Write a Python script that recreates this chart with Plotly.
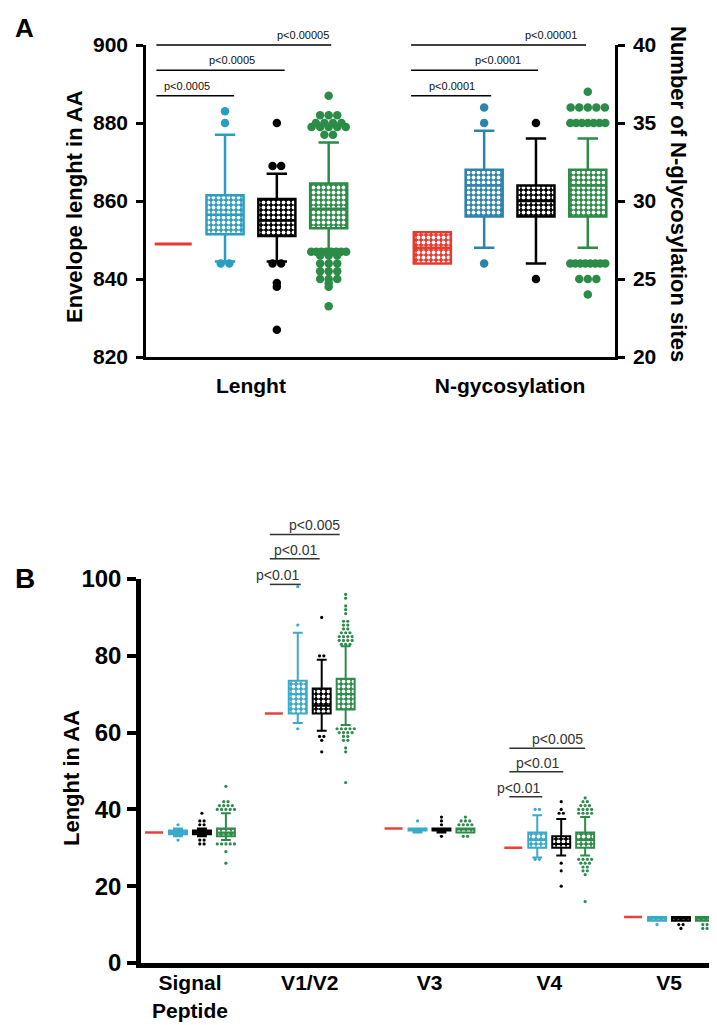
import plotly.graph_objects as go
from collections import Counter

# ---------------- Panel A data ----------------
A_categories = ["Lenght", "N-gycosylation"]
A_group_offsets = [-0.3, -0.1, 0.1, 0.3]
A_colors_len = ["#E8392D", "#2A9DC0", "#000000", "#2B8C47"]
A_colors_gly = ["#E8392D", "#2C84AC", "#000000", "#2B8C47"]

len_q1 = [849, 851.5, 851, 853]
len_med = [849, 856.5, 855, 858]
len_q3 = [849, 861.5, 860.5, 864.5]
len_lo = [849, 844.5, 844.5, 847.5]
len_hi = [849, 877, 867, 875]
len_out = [
    [],
    [883, 880, 844, 844],
    [880, 869, 869, 844, 844, 839, 838, 827],
    [887, 882, 882, 882, 880, 880, 880, 880, 879, 879, 879, 879, 879, 877, 877,
     847, 847, 847, 847, 847, 847, 847, 847, 846, 846, 846, 844, 844, 844,
     842, 842, 842, 840, 840, 840, 839, 838, 833],
]

gly_q1 = [26, 29, 29, 29]
gly_med = [27, 31, 30, 31]
gly_q3 = [28, 32, 31, 32]
gly_lo = [26, 27, 26, 27]
gly_hi = [28, 34.5, 34, 34]
gly_out = [
    [],
    [36, 35, 26],
    [35, 25],
    [37, 36, 36, 36, 36, 36, 35, 35, 35, 35, 35, 35, 35,
     26, 26, 26, 26, 26, 26, 26, 26, 25, 25, 25, 24],
]

A_ticks_left = [820, 840, 860, 880, 900]
A_ticks_right = [20, 25, 30, 35, 40]

# significance bars (relative to category centre), heights in left-axis units
A_sig_start = [-0.365, -0.382]
A_sig_end = [[-0.065, 0.13, 0.31], [-0.073, 0.108, 0.293]]
A_sig_y = [887, 893.5, 900]
A_sig_text = [["p<0.0005", "p<0.0005", "p<0.00005"], ["p<0.0001", "p<0.0001", "p<0.00001"]]
A_sig_text_x = [[-0.247, -0.073, 0.2], [-0.224, -0.046, 0.158]]

# ---------------- Panel B data ----------------
B_categories = ["Signal<br>Peptide", "V1/V2", "V3", "V4", "V5"]
B_colors = ["#E8413A", "#3AAAC9", "#000000", "#2E8B4A"]
B_ticks = [0, 20, 40, 60, 80, 100]

B_q1 = [[34, 33.5, 33.5, 33], [65, 65, 65, 66], [35, 34.5, 34.5, 34], [30, 30, 30, 30], [12, 11, 11, 11]]
B_med = [[34, 34, 34, 34], [65, 70, 67, 70], [35, 35, 35, 35], [30, 32, 31, 32], [12, 12, 12, 12]]
B_q3 = [[34, 34.5, 34.5, 35], [65, 73.5, 71.5, 74], [35, 35, 35, 35], [30, 34, 33, 34], [12, 12, 12, 12]]
B_lo = [[34, 33, 33, 32], [65, 62.5, 60.5, 62], [35, 34, 34, 34], [30, 27.5, 28, 28], [12, 11, 11, 11]]
B_hi = [[34, 35, 35, 39], [65, 86, 79, 82.5], [35, 35, 35, 35], [30, 38.5, 37.5, 38], [12, 12, 12, 12]]
B_out = [
    [[], [36, 32], [39, 37, 37, 36, 36, 32, 32, 31, 31],
     [46, 42, 42, 41, 41, 41, 41, 40, 40, 40, 40, 40, 31, 31, 31, 31, 31, 29, 26]],
    [[], [98, 88, 61], [90, 80, 80, 59, 59, 58, 55],
     [96, 95, 93, 92, 91, 89, 89, 88, 88, 87, 87, 86, 86, 86, 85, 85, 85, 85,
      84, 84, 84, 84, 83, 83, 83, 61, 61, 61, 61, 61, 60, 60, 60, 60, 59, 59, 58, 58, 56, 55, 47]],
    [[], [37], [38, 37, 36, 33], [38, 37, 37, 37, 36, 36, 36, 36, 33, 33]],
    [[], [40, 40, 27, 27], [42, 40, 39, 39, 26, 24, 20],
     [43, 42, 42, 41, 41, 41, 40, 40, 40, 40, 39, 39, 39, 39,
      27, 27, 27, 27, 26, 26, 26, 25, 25, 24, 24, 23, 16]],
    [[], [10], [10, 10, 9], [10, 10, 9, 9]],
]

B_sig_cats = [1, 3]
B_sig_start = [-0.333, -0.333]
B_sig_end = [[-0.075, 0.083, 0.25], [-0.058, 0.117, 0.3]]
B_sig_y = [[98.6, 105.3, 111.6], [43.3, 49.8, 55.9]]
B_sig_text = [["p<0.01", "p<0.01", "p<0.005"], ["p<0.01", "p<0.01", "p<0.005"]]
B_sig_text_x = [[-0.267, -0.117, 0.042], [-0.258, -0.1, 0.067]]

# ---------------- helpers ----------------
FONT = "Arial, 'Liberation Sans', Helvetica, sans-serif"


def swarm(center, values, step, maxw):
    xs, ys = [], []
    counts = Counter(values)
    for v, n in counts.items():
        s = step if n == 1 else min(step, maxw / (n - 1))
        for k in range(n):
            xs.append(center + (k - (n - 1) / 2) * s)
            ys.append(v)
    return xs, ys


fig = go.Figure()


def add_group(pos, q1, med, q3, lo, hi, out, color, xa, ya, bw, lw, msize, step, maxw):
    if q3 > q1:
        fig.add_trace(go.Bar(
            x=[pos], base=[q1], y=[q3 - q1], width=bw, xaxis=xa, yaxis=ya,
            marker=dict(color=color, line=dict(width=0),
                        pattern=dict(shape=".", fgcolor="white", bgcolor=color,
                                     size=5, solidity=0.45)),
            hoverinfo="skip"))
    fig.add_trace(go.Box(
        x=[pos], q1=[q1], median=[med], q3=[q3], lowerfence=[lo], upperfence=[hi],
        width=bw, whiskerwidth=0.55, orientation="v", boxpoints=False,
        line=dict(color=color, width=lw), fillcolor="rgba(0,0,0,0)",
        xaxis=xa, yaxis=ya))
    if out:
        xs, ys = swarm(pos, out, step, maxw)
        fig.add_trace(go.Scatter(
            x=xs, y=ys, mode="markers", xaxis=xa, yaxis=ya, cliponaxis=False,
            marker=dict(color=color, size=msize, line=dict(width=0))))


# Panel A
for g in range(4):
    add_group(0 + A_group_offsets[g], len_q1[g], len_med[g], len_q3[g], len_lo[g], len_hi[g],
              len_out[g], A_colors_len[g], "x", "y", 0.143, 3 if g == 0 else 2.5, 8.5, 0.033, 0.135)
for g in range(4):
    add_group(1 + A_group_offsets[g], gly_q1[g], gly_med[g], gly_q3[g], gly_lo[g], gly_hi[g],
              gly_out[g], A_colors_gly[g], "x", "y2", 0.143, 2.5, 8.5, 0.033, 0.135)

# Panel B
for c in range(5):
    for g in range(4):
        add_group(c + A_group_offsets[g], B_q1[c][g], B_med[c][g], B_q3[c][g], B_lo[c][g], B_hi[c][g],
                  B_out[c][g], B_colors[g], "x2", "y4", 0.15, 2.5 if g == 0 else 2, 3.2, 0.036, 0.17)

annotations = []

# significance bars A
sx, sy = [], []
for c in range(2):
    for k in range(3):
        sx += [c + A_sig_start[c], c + A_sig_end[c][k], None]
        sy += [A_sig_y[k], A_sig_y[k], None]
        annotations.append(dict(x=c + A_sig_text_x[c][k], y=A_sig_y[k], xref="x", yref="y3",
                                text=A_sig_text[c][k], showarrow=False, xanchor="center",
                                yanchor="middle", yshift=10,
                                font=dict(family=FONT, size=11, color="#111")))
fig.add_trace(go.Scatter(x=sx, y=sy, mode="lines", xaxis="x", yaxis="y3",
                         line=dict(color="black", width=1.5), hoverinfo="skip"))

# significance bars B
sx, sy = [], []
for i, c in enumerate(B_sig_cats):
    for k in range(3):
        sx += [c + B_sig_start[i], c + B_sig_end[i][k], None]
        sy += [B_sig_y[i][k], B_sig_y[i][k], None]
        annotations.append(dict(x=c + B_sig_text_x[i][k], y=B_sig_y[i][k], xref="x2", yref="y5",
                                text=B_sig_text[i][k], showarrow=False, xanchor="center",
                                yanchor="middle", yshift=9,
                                font=dict(family=FONT, size=14, color="#333")))
fig.add_trace(go.Scatter(x=sx, y=sy, mode="lines", xaxis="x2", yaxis="y5",
                         line=dict(color="#333", width=1.5), hoverinfo="skip"))


def label(text, px, py, size, angle=0):
    return dict(text=text, x=px / 717, y=1 - py / 1025, xref="paper", yref="paper",
                showarrow=False, textangle=angle, xanchor="center", yanchor="middle",
                font=dict(family=FONT, size=size, color="black"))


annotations += [
    label("<b>A</b>", 16, 20, 26),
    label("<b>B</b>", 17, 570, 28),
    label("<b>Envelope lenght in AA</b>", 67, 199, 22, -90),
    label("<b>Number of N-glycosylation sites</b>", 670, 186, 22, 90),
    label("<b>Lenght in AA</b>", 63, 770, 22, -90),
]

tickfA = dict(family=FONT, size=21, color="black", weight="bold")
tickfB = dict(family=FONT, size=24, color="black", weight="bold")
tickfBx = dict(family=FONT, size=21, color="black", weight="bold")

fig.update_layout(
    template="none",
    width=717, height=1025, margin=dict(l=0, r=0, t=0, b=0, autoexpand=False),
    paper_bgcolor="white", plot_bgcolor="rgba(0,0,0,0)",
    showlegend=False, barmode="overlay", boxmode="overlay",
    annotations=annotations,
    xaxis=dict(domain=[138 / 717, 607 / 717], range=[-0.405, 1.405], anchor="y", automargin=False,
               tickmode="array", tickvals=[0, 1], ticktext=A_categories, ticks="",
               showline=True, linecolor="black", linewidth=2.5, showgrid=False, zeroline=False,
               tickfont=tickfA, ticklabelstandoff=8),
    yaxis=dict(domain=[1 - 349 / 1025, 1 - 37 / 1025], range=[820, 900], anchor="x", automargin=False,
               tickmode="array", tickvals=A_ticks_left, ticks="outside", ticklen=7, tickwidth=2.5,
               tickcolor="black", showline=True, linecolor="black", linewidth=2.5,
               showgrid=False, zeroline=False, tickfont=tickfA, ticklabelstandoff=4),
    yaxis2=dict(overlaying="y", side="right", anchor="x", range=[20, 40], automargin=False,
                tickmode="array", tickvals=A_ticks_right, ticks="outside", ticklen=7, tickwidth=2.5,
                tickcolor="black", showline=True, linecolor="black", linewidth=2.5,
                showgrid=False, zeroline=False, tickfont=tickfA, ticklabelstandoff=4),
    yaxis3=dict(domain=[1 - 349 / 1025, 1 - 8 / 1025], range=[820, 820 + 341 / 3.9], anchor="x",
                visible=False, automargin=False),
    xaxis2=dict(domain=[133 / 717, 715 / 717], range=[-0.409, 4.451], anchor="y4", automargin=False,
                tickmode="array", tickvals=list(range(5)), ticktext=B_categories, ticks="",
                showline=True, linecolor="black", linewidth=5, showgrid=False, zeroline=False,
                tickfont=tickfBx, ticklabelstandoff=-3),
    yaxis4=dict(domain=[1 - 955 / 1025, 1 - 571 / 1025], range=[0, 100], anchor="x2", automargin=False,
                tickmode="array", tickvals=B_ticks, ticks="outside", ticklen=9, tickwidth=3.5,
                tickcolor="black", showline=True, linecolor="black", linewidth=4.5,
                showgrid=False, zeroline=False, tickfont=tickfB, ticklabelstandoff=1),
    yaxis5=dict(domain=[1 - 955 / 1025, 1 - 480 / 1025], range=[0, 475 / 3.84], anchor="x2",
                visible=False, automargin=False),
)

fig.write_html("out.html")
